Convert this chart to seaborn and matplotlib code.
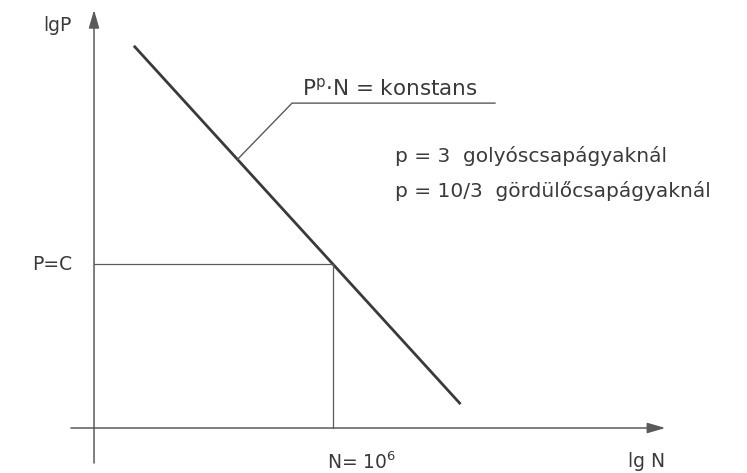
import numpy as np
import pandas as pd
import matplotlib
matplotlib.use("Agg")
import matplotlib.pyplot as plt
import seaborn as sns
from matplotlib.patches import FancyArrowPatch

sns.set_theme(style="white")
plt.rcParams["font.family"] = ["DejaVu Sans"]
plt.rcParams["mathtext.fontset"] = "custom"
plt.rcParams["mathtext.rm"] = "DejaVu Sans"
plt.rcParams["mathtext.it"] = "DejaVu Sans"

# Life line of a rolling bearing in log-log coordinates (schematic units)
lg_n_line = [1.0, 9.2]
lg_p_line = [9.6, 0.6]

# Reference point: N = 10^6 revolutions, P = C
lg_n_ref = 6.0

# Text
x_label = "lg N"
y_label = "lgP"
ref_x_label = r"N= 10$^{6}$"
ref_y_label = "P=C"
law_label = r"P$^{\mathregular{p}}$·N = konstans"
notes = ["p = 3  golyóscsapágyaknál", "p = 10/3  gördülőcsapágyaknál"]


def on_line(lg_n):
    """lg P of the life line at a given lg N."""
    slope = (lg_p_line[1] - lg_p_line[0]) / (lg_n_line[1] - lg_n_line[0])
    return lg_p_line[0] + (lg_n - lg_n_line[0]) * slope


lg_p_ref = on_line(lg_n_ref)

ink = "#3a3a3a"
thin = "#5a5a5a"

fig = plt.figure(figsize=(7.47, 4.73), dpi=100)
ax = fig.add_axes([0, 0, 1, 1])
ax.set_xlim(-2.36, 16.39)
ax.set_ylim(-1.13, 10.75)
ax.set_axis_off()

# Main line
df = pd.DataFrame({"lgN": lg_n_line, "lgP": lg_p_line})
sns.lineplot(data=df, x="lgN", y="lgP", ax=ax, color=ink, lw=2.0,
             solid_capstyle="butt", legend=False)

# Axes with arrow heads
for start, end in [((-0.58, 0.0), (14.34, 0.0)), ((0.0, -0.88), (0.0, 10.5))]:
    ax.add_patch(FancyArrowPatch(start, end, arrowstyle="-|>,head_length=0.55,head_width=0.16",
                                 mutation_scale=20, color=thin, lw=1.1, shrinkA=0, shrinkB=0))

# Reference lines to P=C and N=10^6
ax.plot([0, lg_n_ref], [lg_p_ref, lg_p_ref], color=thin, lw=0.9)
ax.plot([lg_n_ref, lg_n_ref], [lg_p_ref, 0], color=thin, lw=0.9)

# Leader to the law label
lead_n = 3.6
ax.plot([lead_n, 4.97, 10.07], [on_line(lead_n), 8.16, 8.16], color=thin, lw=1.0)

fs = 13.5
ax.text(-0.55, 10.12, y_label, ha="right", va="center", fontsize=fs, color=ink)
ax.text(-0.55, lg_p_ref, ref_y_label, ha="right", va="center", fontsize=fs, color=ink)
ax.text(lg_n_ref - 0.15, -0.85, ref_x_label, ha="left", va="center", fontsize=fs, color=ink)
ax.text(13.86, -0.85, x_label, ha="center", va="center", fontsize=fs, color=ink)
ax.text(5.22, 8.36, law_label, ha="left", va="baseline", fontsize=15.5, color=ink)
ax.text(7.56, 6.68, notes[0], ha="left", va="baseline", fontsize=14.5, color=ink)
ax.text(7.56, 5.80, notes[1], ha="left", va="baseline", fontsize=14.5, color=ink)

fig.savefig("out.png", dpi=100, facecolor="white")
